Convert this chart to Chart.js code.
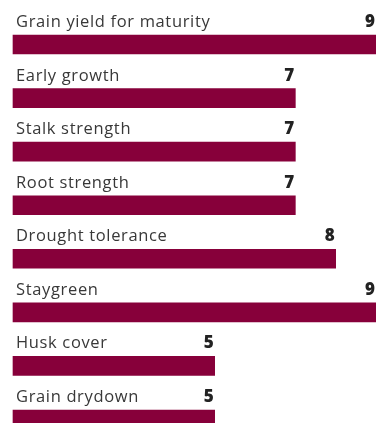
<!DOCTYPE html>
<html>
<head>
<meta charset="utf-8">
<script src="https://cdn.jsdelivr.net/npm/chart.js@4"></script>
<style>
html,body{margin:0;padding:0;background:#fff;}
#wrap{width:376px;height:423px;position:relative;}
</style>
</head>
<body>
<div id="wrap"><canvas id="c"></canvas></div>
<script>
const categories = ["Grain yield for maturity","Early growth","Stalk strength","Root strength","Drought tolerance","Staygreen","Husk cover","Grain drydown"];
const ratings = [9,7,7,7,8,9,5,5];
const scaleMax = 9;

const labelPlugin = {
  id: 'labelPlugin',
  afterDatasetsDraw(chart) {
    const ctx = chart.ctx;
    const meta = chart.getDatasetMeta(0);
    ctx.save();
    meta.data.forEach((bar, i) => {
      const top = bar.y - bar.height / 2;
      const baseY = top - 8;
      ctx.textBaseline = 'alphabetic';
      ctx.fillStyle = '#383838';
      ctx.font = '400 16.5px "Open Sans"';
      if ('letterSpacing' in ctx) ctx.letterSpacing = '0.65px';
      ctx.textAlign = 'left';
      ctx.fillText(categories[i], 16, baseY);
      if ('letterSpacing' in ctx) ctx.letterSpacing = '0px';
      ctx.fillStyle = '#222222';
      ctx.font = '800 17px "Open Sans"';
      ctx.textAlign = 'right';
      ctx.fillText(String(ratings[i]), bar.x - 1, baseY);
    });
    ctx.restore();
  }
};

new Chart(document.getElementById('c'), {
  type: 'bar',
  data: {
    labels: categories,
    datasets: [{
      data: ratings,
      backgroundColor: '#87003A',
      borderWidth: 0,
      barThickness: 19,
      clip: false
    }]
  },
  options: {
    indexAxis: 'y',
    responsive: true,
    maintainAspectRatio: false,
    animation: false,
    layout: { padding: { left: 13, right: 0, top: 44.5, bottom: 3.5 } },
    scales: {
      x: { display: false, min: 0, max: scaleMax },
      y: { display: false, offset: false }
    },
    plugins: { legend: { display: false }, tooltip: { enabled: false } }
  },
  plugins: [labelPlugin]
});
</script>
</body>
</html>
